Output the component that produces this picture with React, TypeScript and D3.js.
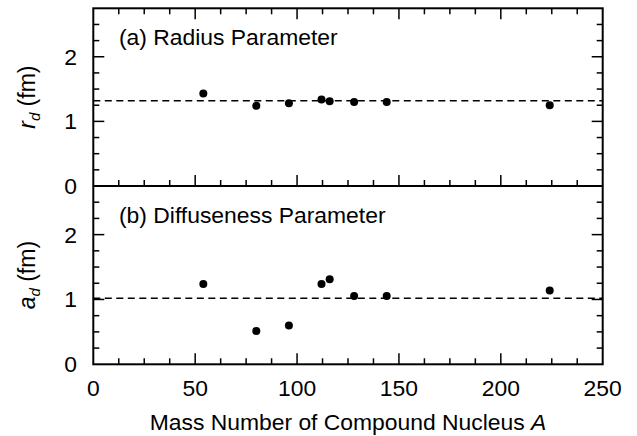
import React from "react";
import * as d3 from "d3";

const massNumbers = [54, 80, 96, 112, 116, 128, 144, 224];
const radiusValues = [1.43, 1.24, 1.28, 1.34, 1.31, 1.30, 1.30, 1.25];
const diffusenessValues = [1.24, 0.515, 0.6, 1.24, 1.31, 1.055, 1.055, 1.14];
const radiusMean = 1.32;
const diffusenessMean = 1.02;
const xTickLabels = [0, 50, 100, 150, 200, 250];
const yTickLabels = [0, 1, 2];
const panelTitles = ["(a) Radius Parameter", "(b) Diffuseness Parameter"];

const W = 637;
const H = 436;
const left = 93.3;
const right = 602.7;
const top = 8.3;
const mid = 186;
const bottom = 364.3;
const FONT = "'Liberation Sans', Arial, Helvetica, sans-serif";
const FS = 22;
const SX = 1.04;

const x = d3.scaleLinear().domain([0, 250]).range([left, right]);

function T({ x, y, anchor = "start", children, italic = false }: any) {
  return (
    <text
      transform={`translate(${x},${y}) scale(${SX},1)`}
      textAnchor={anchor}
      fontFamily={FONT}
      fontSize={FS}
      fill="#000"
      fontStyle={italic ? "italic" : "normal"}
    >
      {children}
    </text>
  );
}

function Panel({ y0, y1, values, mean, title, sym, topTicks }: any) {
  const y = d3.scaleLinear().domain([0, 2.75]).range([y1, y0]);
  const xMinor = d3.range(0, 250.001, 12.5);
  const yMinor = d3.range(0, 2.751, 0.25).filter((v) => v > 0 && v < 2.75);
  const isMajorX = (v: number) => Math.abs(v % 50) < 1e-6;
  const isMajorY = (v: number) => Math.abs(v - Math.round(v)) < 1e-6;
  const tick = "#000";
  return (
    <g>
      {xMinor.map((v, i) =>
        v > 0 && v < 250 ? (
          <line key={"xb" + i} x1={x(v)} x2={x(v)} y1={y1} y2={y1 - (isMajorX(v) ? 11 : 6)} stroke={tick} strokeWidth={1.5} />
        ) : null
      )}
      {topTicks &&
        xMinor.map((v, i) =>
          v > 0 && v < 250 ? (
            <line key={"xt" + i} x1={x(v)} x2={x(v)} y1={y0} y2={y0 + (isMajorX(v) ? 11 : 6)} stroke={tick} strokeWidth={1.5} />
          ) : null
        )}
      {yMinor.map((v, i) => (
        <g key={"y" + i}>
          <line x1={left} x2={left + (isMajorY(v) ? 11 : 6)} y1={y(v)} y2={y(v)} stroke={tick} strokeWidth={1.5} />
          <line x1={right} x2={right - (isMajorY(v) ? 11 : 6)} y1={y(v)} y2={y(v)} stroke={tick} strokeWidth={1.5} />
        </g>
      ))}
      {yTickLabels.map((v) => (
        <T key={"yl" + v} x={77} y={y(v) + 8} anchor="end">
          {v}
        </T>
      ))}
      <line x1={left} x2={right} y1={y(mean)} y2={y(mean)} stroke="#000" strokeWidth={1.5} strokeDasharray="7,4.5" />
      {massNumbers.map((a, i) => (
        <circle key={"p" + i} cx={x(a)} cy={y(values[i])} r={4} fill="#000" />
      ))}
      <T x={119} y={y0 + 36.5}>
        {title}
      </T>
      <text
        transform={`translate(35,${(y0 + y1) / 2}) rotate(-90)`}
        textAnchor="middle"
        fontFamily={FONT}
        fontSize={23}
        fill="#000"
      >
        <tspan fontStyle="italic">{sym}</tspan>
        <tspan fontStyle="italic" fontSize={15} dy={5}>d</tspan>
        <tspan dy={-5}> (fm)</tspan>
      </text>
    </g>
  );
}

export default function App() {
  return (
    <svg width={W} height={H} style={{ position: "absolute", left: 0, top: 0, background: "#fff" }}>
      <rect x={0} y={0} width={W} height={H} fill="#fff" />
      <Panel y0={top} y1={mid} values={radiusValues} mean={radiusMean} title={panelTitles[0]} sym="r" topTicks={true} />
      <Panel y0={mid} y1={bottom} values={diffusenessValues} mean={diffusenessMean} title={panelTitles[1]} sym="a" topTicks={false} />
      <rect x={left} y={top} width={right - left} height={bottom - top} fill="none" stroke="#000" strokeWidth={2} />
      <line x1={left} x2={right} y1={mid} y2={mid} stroke="#000" strokeWidth={2} />
      {xTickLabels.map((v) => (
        <T key={"xl" + v} x={x(v)} y={395.5} anchor="middle">
          {v}
        </T>
      ))}
      <text
        transform={`translate(${(left + right) / 2},430) scale(${SX},1)`}
        textAnchor="middle"
        fontFamily={FONT}
        fontSize={FS}
        fill="#000"
      >
        Mass Number of Compound Nucleus <tspan fontStyle="italic">A</tspan>
      </text>
    </svg>
  );
}
